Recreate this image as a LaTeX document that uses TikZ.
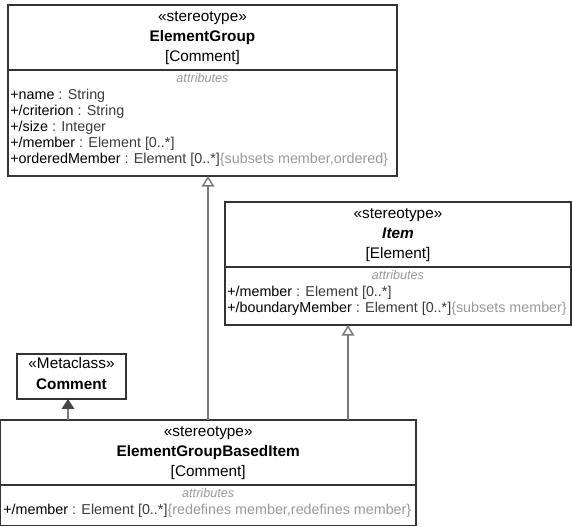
\documentclass[tikz,border=0pt]{standalone}
\usepackage{fontspec}
\setmainfont{Liberation Sans}
\usetikzlibrary{positioning,arrows.meta}
\definecolor{linecol}{HTML}{333333}
\definecolor{conncol}{HTML}{7A7A7A}
\definecolor{typecol}{HTML}{3C3C3C}
\definecolor{mutedcol}{HTML}{9A9A9A}
\definecolor{headcol}{HTML}{474747}

\begin{document}
\begin{tikzpicture}[x=0.75pt,y=-0.75pt,
  umlbox/.style={draw=linecol,line width=0.9pt,fill=white,anchor=north west,inner sep=0pt,outer sep=0pt},
  divider/.style={draw=linecol,line width=0.9pt},
  title/.style={anchor=base,inner sep=0pt,font=\fontsize{11.5}{13}\selectfont},
  section/.style={anchor=base,inner sep=0pt,text=mutedcol,font=\fontsize{9.5}{11}\selectfont\itshape},
  attr/.style={anchor=base west,inner sep=0pt,font=\fontsize{10.75}{13}\selectfont},
  gen/.style={draw=conncol,line width=1.1pt,-{Triangle[open,length=8pt,width=9.5pt]}},
  ext/.style={draw=conncol,line width=1.1pt,-{Triangle[length=7.5pt,width=9.5pt,fill=headcol,color=headcol]}}]
  \useasboundingbox (0,0) rectangle (572,527);

  % boxes
  \node[umlbox,minimum width=291.75pt,minimum height=128.25pt] (eg) at (8,5) {};
  \node[umlbox,minimum width=259.5pt,minimum height=92.25pt] (item) at (225,202) {};
  \node[umlbox,minimum width=81.75pt,minimum height=33.75pt] (cmt) at (17,354) {};
  \node[umlbox,minimum width=311.6pt,minimum height=79.1pt] (egbi) at (0.5,420) {};

  % ElementGroup
  \node[title] (eg-st) at (eg.north |- 0,22) {«stereotype»};
  \node[title,font=\fontsize{11.5}{13}\selectfont\bfseries] (eg-nm) at (eg.north |- 0,42) {ElementGroup};
  \node[title] (eg-ex) at (eg.north |- 0,62) {[Comment]};
  \draw[divider] (eg.west |- 0,70) -- (eg.east |- 0,70);
  \node[section] (eg-at) at (eg.north |- 0,83) {attributes};
  \foreach [count=\i] \nm/\tp/\cs in {{+name}/{String}/{},{+/criterion}/{String}/{},{+/size}/{Integer}/{},%
      {+/member}/{Element [0..*]}/{},{+orderedMember}/{Element [0..*]}/{\{subsets member,ordered\}}} {
    \pgfmathsetmacro{\y}{84+16*\i}
    \node[attr] (eg-a\i) at (10,\y) {\nm\textcolor{typecol}{\ : \tp}\textcolor{mutedcol}{\cs}};
  }

  % Item
  \node[title] (item-st) at (item.north |- 0,219) {«stereotype»};
  \node[title,font=\fontsize{11.5}{13}\selectfont\bfseries\itshape] (item-nm) at (item.north |- 0,239) {Item};
  \node[title] (item-ex) at (item.north |- 0,259) {[Element]};
  \draw[divider] (item.west |- 0,267) -- (item.east |- 0,267);
  \node[section] (item-at) at (item.north |- 0,280) {attributes};
  \foreach [count=\i] \nm/\tp/\cs in {{+/member}/{Element [0..*]}/{},{+/boundaryMember}/{Element [0..*]}/{\{subsets member\}}} {
    \pgfmathsetmacro{\y}{281+16*\i}
    \node[attr] (item-a\i) at (227,\y) {\nm\textcolor{typecol}{\ : \tp}\textcolor{mutedcol}{\cs}};
  }

  % Comment
  \node[title] (cmt-st) at (cmt.north |- 0,369) {«Metaclass»};
  \node[title,font=\fontsize{11.5}{13}\selectfont\bfseries] (cmt-nm) at (cmt.north |- 0,390) {Comment};

  % ElementGroupBasedItem
  \node[title] (egbi-st) at (egbi.north |- 0,437) {«stereotype»};
  \node[title,font=\fontsize{11.5}{13}\selectfont\bfseries] (egbi-nm) at (egbi.north |- 0,457) {ElementGroupBasedItem};
  \node[title] (egbi-ex) at (egbi.north |- 0,477) {[Comment]};
  \draw[divider] (egbi.west |- 0,485) -- (egbi.east |- 0,485);
  \node[section] (egbi-at) at (egbi.north |- 0,498) {attributes};
  \node[attr] (egbi-a1) at (3,515) {+/member\textcolor{typecol}{\ : Element [0..*]}\textcolor{mutedcol}{\{redefines member,redefines member\}}};

  % connectors
  \coordinate (g1) at (208,0);
  \coordinate (g2) at (348,0);
  \coordinate (x1) at (68,0);
  \draw[gen] (egbi.north -| g1) -- (eg.south -| g1);
  \draw[gen] (egbi.north -| g2) -- (item.south -| g2);
  \draw[ext] (egbi.north -| x1) -- (cmt.south -| x1);
\end{tikzpicture}
\end{document}
